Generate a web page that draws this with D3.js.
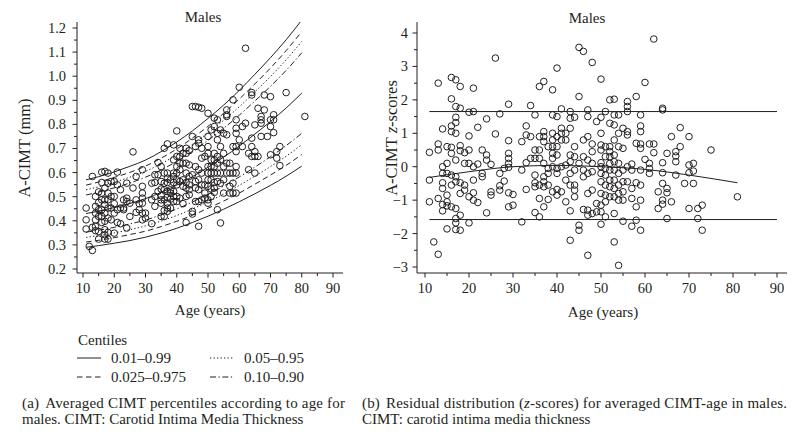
<!DOCTYPE html>
<html><head><meta charset="utf-8">
<script src="https://cdn.jsdelivr.net/npm/d3@7"></script>
<style>
body{margin:0;background:#fff}
text{font-family:"Liberation Serif","Times New Roman",serif;fill:#231f20}
</style>
</head><body>
<svg id="c" width="800" height="434"></svg>
<script>
// ---------- DATA ----------
const xTicks = [10,20,30,40,50,60,70,80,90];
const cimtTicks = [0.2,0.3,0.4,0.5,0.6,0.7,0.8,0.9,1.0,1.1,1.2];
const zTicks = [-3,-2,-1,0,1,2,3,4];

// Centile curves (panel a)
const curveAges = [11,15,20,25,30,35,40,45,50,55,60,65,70,75,80];
const c990 = [0.570,0.583,0.603,0.626,0.652,0.687,0.727,0.773,0.825,0.880,0.941,1.008,1.077,1.151,1.233];
const c975 = [0.548,0.561,0.580,0.601,0.627,0.660,0.698,0.743,0.792,0.846,0.905,0.968,1.034,1.106,1.185];
const c950 = [0.529,0.541,0.560,0.581,0.605,0.637,0.674,0.717,0.765,0.817,0.873,0.935,0.999,1.068,1.144];
const c900 = [0.507,0.519,0.537,0.557,0.581,0.611,0.647,0.688,0.734,0.784,0.838,0.897,0.958,1.024,1.097];
const c500 = [0.430,0.440,0.455,0.472,0.492,0.518,0.548,0.583,0.622,0.664,0.710,0.760,0.812,0.868,0.930];
const c100 = [0.353,0.361,0.373,0.387,0.403,0.425,0.449,0.478,0.510,0.544,0.582,0.623,0.666,0.712,0.763];
const c050 = [0.331,0.339,0.350,0.363,0.379,0.399,0.422,0.449,0.479,0.511,0.547,0.585,0.625,0.668,0.716];
const c025 = [0.312,0.319,0.330,0.343,0.357,0.376,0.398,0.423,0.452,0.482,0.515,0.552,0.590,0.630,0.675];
const c010 = [0.290,0.297,0.307,0.318,0.332,0.349,0.369,0.393,0.419,0.448,0.479,0.512,0.547,0.585,0.627];

// Observations panel a: ages and A-CIMT (mm) per age
const cimtAges = [11,12,13,14,15,16,17,18,19,20,21,22,23,24,25,26,27,28,29,30,32,33,34,35,36,37,38,39,40,41,42,43,44,45,46,47,48,49,50,51,52,53,54,55,56,57,58,59,60,61,62,63,64,65,66,67,68,69,70,71,72,73,75,81];
const cimtValues = [
 [0.453,0.404,0.366],[0.294],[0.584,0.373,0.277],[0.501,0.46,0.432,0.404,0.377,0.359],
 [0.52,0.476,0.446,0.418,0.356,0.324],[0.602,0.559,0.515,0.487,0.446,0.418,0.393],
 [0.605,0.536,0.487,0.467,0.432,0.398,0.363,0.342,0.324],[0.598,0.556,0.515,0.487,0.453,0.411,0.352,0.324],
 [0.563,0.501,0.453,0.404],[0.563,0.501,0.471,0.432,0.349],[0.602,0.549,0.446,0.393],[0.529,0.453,0.388],
 [0.487,0.453,0.446],[0.556,0.494,0.48,0.37],[0.473,0.418],[0.686,0.536],[0.584,0.487,0.435],[0.471,0.446],
 [0.612,0.543,0.515,0.494,0.473,0.432,0.404],[0.432,0.411],[0.556,0.487,0.388],[0.591,0.559,0.501,0.46],
 [0.642,0.591,0.522],[0.625,0.563,0.532,0.504,0.487,0.473,0.418],[0.701,0.598,0.556,0.529,0.487,0.443,0.418],
 [0.719,0.598,0.577,0.559,0.522,0.498,0.473,0.453,0.439],[0.57,0.529,0.515,0.49,0.453],
 [0.715,0.653,0.598,0.584,0.559,0.522,0.501,0.48],[0.773,0.667,0.625,0.598,0.57,0.549,0.501,0.48],
 [0.701,0.667,0.639,0.612,0.563,0.494],[0.68,0.639,0.57,0.543,0.471],[0.701,0.68,0.639,0.598,0.559,0.536,0.501,0.393],
 [0.691,0.632,0.584,0.549,0.529,0.508],[0.874,0.75,0.591,0.439,0.428],[0.874,0.708,0.625,0.563,0.536,0.48],
 [0.871,0.736,0.722,0.612,0.57,0.529,0.48,0.377],[0.867,0.701,0.66,0.598,0.549,0.487],[0.667,0.549,0.515,0.494],
 [0.846,0.75,0.708,0.68,0.625,0.598,0.57,0.543,0.487,0.473],[0.777,0.653,0.625,0.598,0.57,0.532,0.501],
 [0.826,0.791,0.68,0.653,0.625,0.598,0.559,0.536,0.518],[0.819,0.763,0.736,0.667,0.639,0.598,0.563,0.446],
 [0.777,0.708,0.653,0.598,0.556,0.391],[0.763,0.68,0.625,0.57,0.515],[0.86,0.84,0.833,0.757,0.639,0.598],
 [0.639,0.598,0.543,0.515],[0.902,0.708,0.598,0.556,0.515],[0.819,0.784,0.763,0.708,0.687,0.625,0.598,0.515],
 [0.954,0.736],[0.791,0.708],[1.116,0.805],[0.68,0.612],[0.932,0.922,0.743,0.708,0.667],[0.798,0.687,0.667,0.598],
 [0.867,0.667],[0.833,0.819,0.805,0.75],[0.922,0.86],[0.75],[0.915,0.819,0.791,0.674],[0.84,0.819,0.766],
 [0.687,0.66],[0.708,0.629],[0.932],[0.833]
];

// Observations panel b: ages and z-scores per age
const zAges = [11,12,13,14,15,16,17,18,19,20,21,22,23,24,25,26,27,28,29,30,32,33,34,35,36,37,38,39,40,41,42,43,44,45,46,47,48,49,50,51,52,53,54,55,56,57,58,59,60,61,62,63,64,65,66,67,68,69,70,71,72,73,75,81];
const zValues = [
 [0.43,-0.4,-1.05],[-2.25],[2.5,0.68,0.5,-0.95,-2.62],[1.13,0,-0.2,-0.48,-0.65,-1.13,-1.32],
 [0.6,0.1,-0.2,-0.85,-1.05,-1.17,-1.86],[2.67,2.03,1.22,1.05,0.58,0.4,-0.25,-0.55,-1.2],
 [2.6,1.8,1.48,1.32,1.0,0.2,-0.3,-0.45,-1.25,-1.55,-1.68,-1.88],[2.4,1.75,0.63,0.48,-0.48,-0.8,-1.45,-1.9],
 [0.42,0.1,-0.55,-0.7],[1.63,0.92,0.5,0.1,-0.9,-1.68],[2.35,1.65,0,-0.4,-0.78,-1.0],[1.18,0.08,-1.07],
 [0.5,-0.2,-0.3],[1.43,0.35,0.2,-1.38],[0.07,-0.75,-0.85],[3.25,0.98],[1.58,-0.2,-0.57,-0.7],[-0.05,-0.43],
 [1.87,0.78,0.4,0.25,0.1,-0.02,-0.78,-1.2],[-0.83,-1.15],[0.75,-0.1,-1.65],[1.22,0.95,0.12,-0.68],
 [1.83,0.9,0.25],[1.55,0.5,0.25,-0.25,-0.48,-0.6,-1.37],[2.4,0.9,0.5,0.25,-0.55,-0.95,-1.5],
 [2.55,1.05,0.9,0.75,0.1,-0.3,-0.45,-0.6,-1.2],[0.6,-0.05,-0.2,-0.55,-0.98],
 [2.3,1.55,1.0,0.8,0.6,0.4,0.25,0,-0.75],[2.95,1.5,0.9,0.6,0.35,-0.05,-0.2,-0.68,-0.85],
 [1.73,1.15,1.0,0.8,0,-0.75],[1.0,0.8,0.05,-0.4,-1.05],[1.65,1.45,1.15,0.35,0.15,-0.2,-0.55,-1.32,-2.2],
 [1.48,0.6,0.3,-0.1,-0.55,-0.7,-0.9],[3.57,2.1,0.1,-1.75,-1.9],[3.45,0.8,0.3,-0.1,-0.3,-1.28],
 [1.7,1.5,0.9,0.2,-0.2,-0.8,-1.3,-1.45,-2.65],[3.12,0.68,0.45,0.1,-0.15,-0.7,-1.4],[1.35,-1.1,-1.35],
 [2.62,1.48,1.0,0.65,0.5,0.12,0,-0.2,-0.45,-0.8,-1.15,-1.35,-1.72],[1.65,0.6,0.3,-0.05,-0.25,-0.55,-0.85,-1.05,-1.5],
 [2.0,1.3,0.6,0.45,0.3,0.1,-0.1,-0.4,-0.6,-0.9],[2.02,1.55,1.25,0.8,0.35,0.15,-0.1,-0.4,-0.65,-0.9,-1.4,-2.25],
 [1.55,1.0,0.6,0.1,-0.2,-0.55,-0.8,-1.0,-2.95],[1.15,0.55,-0.1,-0.45,-0.75,-1.0,-1.63],[1.95,1.8,1.65,1.05,0.95,0,-0.45],
 [0.08,-0.1,-0.65,-0.95,-1.78],[2.1,0.7,-0.48,-1.2,-1.6],[1.55,1.22,1.05,0.68,0.55,-0.1,-0.55,-1.0,-1.9],
 [2.52,0.22],[0.68,0.1,-0.05,-0.2],[3.82,0.68,0.42],[-0.75,-1.25],[1.75,1.7,0.12,-0.18,-0.5,-1.0,-1.12],
 [0.4,-0.65,-0.78,-1.55],[0.9,-1.05],[0.45,0.32,0.15,-0.25],[1.17,0.6],[-0.5],[0.9,0.05,-0.18,-1.25],
 [0.1,-0.13,-0.5],[-1.25,-1.55],[-1.15,-1.9],[0.5],[-0.9]
];
// smooth residual trend & reference limits (panel b)
const trendAges = [11,20,30,40,50,60,70,81];
const trendZ = [-0.32,-0.15,0.0,0.04,0.0,-0.08,-0.25,-0.48];
const limitUpper = 1.65, limitLower = -1.58;
const limitAges = [11,90];

const legendItems = ["0.01–0.99","0.025–0.975","0.05–0.95","0.10–0.90"];

// ---------- DRAW ----------
const svg = d3.select("#c");
const ink = "#231f20";
const tickFont = 14.5;

// ---- Panel a ----
const xa = d3.scaleLinear().domain([10,90]).range([83,333]);
const ya = d3.scaleLinear().domain([0.2,1.2]).range([269,28]);
const ga = svg.append("g");
ga.append("clipPath").attr("id","clipA").append("rect").attr("x",77).attr("y",22).attr("width",266).attr("height",251);

const line = (xs, ys, sx, sy) => d3.line().x(d=>sx(d[0])).y(d=>sy(d[1])).curve(d3.curveMonotoneX)(xs.map((a,i)=>[a,ys[i]]));
const dashes = {solid:null, dash:"5.5,3.5", dot:"1.3,2.2", dashdot:"6,2.5,1.3,2.5"};
const curves = [[c990,"solid"],[c975,"dash"],[c950,"dot"],[c900,"dashdot"],[c500,"solid"],[c100,"dashdot"],[c050,"dot"],[c025,"dash"],[c010,"solid"]];
const cg = ga.append("g").attr("clip-path","url(#clipA)");
curves.forEach(([vals,st])=>{
  cg.append("path").attr("d",line(curveAges,vals,xa,ya)).attr("fill","none").attr("stroke",ink)
    .attr("stroke-width",1).attr("stroke-dasharray",dashes[st]);
});
const ptsA = [];
cimtAges.forEach((a,i)=>cimtValues[i].forEach(v=>ptsA.push([a,v])));
ga.append("g").selectAll("circle").data(ptsA).join("circle")
  .attr("cx",d=>xa(d[0])).attr("cy",d=>ya(d[1])).attr("r",3.3)
  .attr("fill","none").attr("stroke",ink).attr("stroke-width",1);

function drawAxes(g, sx, sy, x0, x1, yTop, yBot, yMajor, yMinorStep, yFmt, labelGap){
  const gx = g.append("g").attr("transform",`translate(0,${yBot})`);
  gx.append("line").attr("x1",x0).attr("x2",x1).attr("stroke",ink).attr("stroke-width",1);
  const xmin = d3.range(10,91,5);
  gx.selectAll(".xm").data(xmin).join("line").attr("x1",d=>sx(d)).attr("x2",d=>sx(d))
    .attr("y1",0).attr("y2",d=>d%10===0?4.5:3).attr("stroke",ink).attr("stroke-width",1);
  gx.selectAll(".xl").data(xTicks).join("text").attr("x",d=>sx(d)).attr("y",20)
    .attr("text-anchor","middle").attr("font-size",tickFont).text(d=>d);
  const gy = g.append("g").attr("transform",`translate(${x0},0)`);
  gy.append("line").attr("y1",yTop).attr("y2",yBot).attr("stroke",ink).attr("stroke-width",1);
  const d0 = sy.domain();
  const ymin = d3.range(Math.round(d0[0]/yMinorStep), Math.round(d0[1]/yMinorStep)+1).map(k=>k*yMinorStep);
  gy.selectAll(".ym").data(ymin).join("line").attr("y1",d=>sy(d)).attr("y2",d=>sy(d))
    .attr("x1",0).attr("x2",(d,i)=>i%2===0?-4.5:-3).attr("stroke",ink).attr("stroke-width",1);
  gy.selectAll(".yl").data(yMajor).join("text").attr("x",-labelGap).attr("y",d=>sy(d)).attr("dy","0.34em")
    .attr("text-anchor","end").attr("font-size",tickFont).text(yFmt);
}
drawAxes(ga, xa, ya, 77, 343, 22, 273, cimtTicks, 0.05, d3.format(".1f"), 11);

ga.append("text").attr("x",203).attr("y",22).attr("text-anchor","middle").attr("font-size",15).text("Males");
ga.append("text").attr("x",210).attr("y",315).attr("text-anchor","middle").attr("font-size",15).text("Age (years)");
ga.append("text").attr("transform","translate(30,148) rotate(-90)").attr("text-anchor","middle").attr("font-size",16.5).text("A-CIMT (mm)");

// legend
const lg = svg.append("g");
lg.append("text").attr("x",78).attr("y",345).attr("font-size",15).text("Centiles");
const legPos = [[77,358,"solid"],[77,377,"dash"],[210,358,"dot"],[210,377,"dashdot"]];
legPos.forEach(([x,y,st],i)=>{
  lg.append("line").attr("x1",x).attr("x2",x+24).attr("y1",y).attr("y2",y).attr("stroke",ink)
    .attr("stroke-width",1).attr("stroke-dasharray",dashes[st]);
  lg.append("text").attr("x",x+34).attr("y",y+5).attr("font-size",15).text(legendItems[i]);
});

// ---- Panel b ----
const xb = d3.scaleLinear().domain([10,90]).range([425,777]);
const yb = d3.scaleLinear().domain([-3,4]).range([267,33]);
const gb = svg.append("g");
[limitUpper,limitLower].forEach(v=>{
  gb.append("line").attr("x1",xb(limitAges[0])).attr("x2",xb(limitAges[1])).attr("y1",yb(v)).attr("y2",yb(v))
    .attr("stroke",ink).attr("stroke-width",1);
});
gb.append("path").attr("d",line(trendAges,trendZ,xb,yb)).attr("fill","none").attr("stroke",ink).attr("stroke-width",1);
const ptsB = [];
zAges.forEach((a,i)=>zValues[i].forEach(v=>ptsB.push([a,v])));
gb.append("g").selectAll("circle").data(ptsB).join("circle")
  .attr("cx",d=>xb(d[0])).attr("cy",d=>yb(d[1])).attr("r",3.3)
  .attr("fill","none").attr("stroke",ink).attr("stroke-width",1);
drawAxes(gb, xb, yb, 417, 787, 22, 273, zTicks, 0.5, d3.format("d"), 9);
gb.append("text").attr("x",587).attr("y",22.5).attr("text-anchor","middle").attr("font-size",15).text("Males");
gb.append("text").attr("x",603).attr("y",317).attr("text-anchor","middle").attr("font-size",15).text("Age (years)");
const yl = gb.append("text").attr("transform","translate(397,138) rotate(-90)").attr("text-anchor","middle").attr("font-size",16.5);
yl.append("tspan").text("A-CIMT ");
yl.append("tspan").attr("font-style","italic").text("z");
yl.append("tspan").text("-scores");

// ---- Captions ----
const cap = svg.append("g");
const ca = cap.append("text").attr("x",22).attr("y",408).attr("font-size",15).attr("textLength",323).attr("lengthAdjust","spacing");
ca.append("tspan").text("(a)");
ca.append("tspan").attr("dx",6).text("Averaged CIMT percentiles according to age for");
cap.append("text").attr("x",22).attr("y",424).attr("font-size",15).text("males. CIMT: Carotid Intima Media Thickness");
const cb = cap.append("text").attr("x",362).attr("y",408).attr("font-size",15).attr("textLength",425).attr("lengthAdjust","spacing");
cb.append("tspan").text("(b)");
cb.append("tspan").attr("dx",6).text("Residual distribution (");
cb.append("tspan").attr("font-style","italic").text("z");
cb.append("tspan").text("-scores) for averaged CIMT-age in males.");
cap.append("text").attr("x",362).attr("y",424).attr("font-size",15).text("CIMT: carotid intima media thickness");
</script>
</body></html>
